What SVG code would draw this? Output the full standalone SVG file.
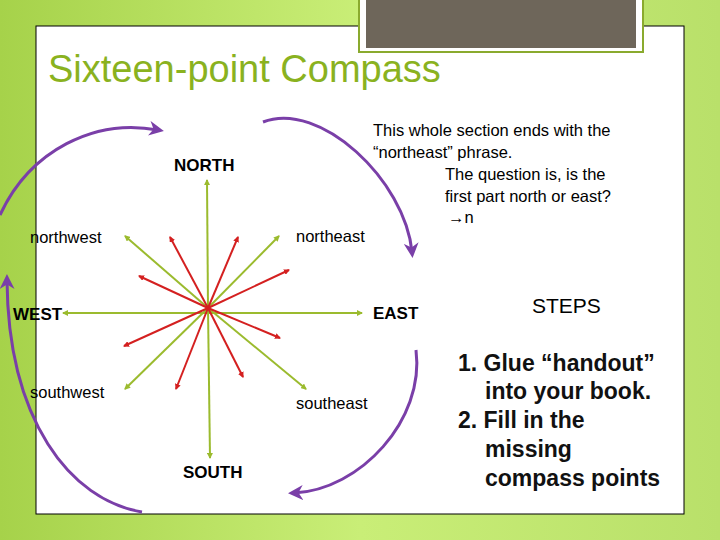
<svg xmlns="http://www.w3.org/2000/svg" width="720" height="540" viewBox="0 0 720 540">
<defs>
<linearGradient id="bg" x1="0" y1="0" x2="1" y2="0"><stop offset="0" stop-color="#a6d24a"/><stop offset="0.5" stop-color="#c9ee77"/><stop offset="1" stop-color="#b9e06a"/></linearGradient>
<marker id="ag" viewBox="0 0 6 6" refX="5" refY="3" markerWidth="3" markerHeight="3" orient="auto"><path d="M0,0L6,3L0,6z" fill="#9bbb2e"/></marker>
<marker id="ar" viewBox="0 0 6 6" refX="5" refY="3" markerWidth="3" markerHeight="3" orient="auto"><path d="M0,0L6,3L0,6z" fill="#d42020"/></marker>
<marker id="ap" viewBox="0 0 10 10" refX="6" refY="5" markerWidth="5" markerHeight="5" orient="auto"><path d="M0,0L10,5L0,10L3,5z" fill="#7a3fa8"/></marker>
<style>
.g{stroke:#9bbb2e;stroke-width:2;marker-end:url(#ag)}
.r{stroke:#d42020;stroke-width:2;marker-end:url(#ar)}
.p{fill:none;stroke:#7a3fa8;stroke-width:3;marker-end:url(#ap)}
text{font-family:"Liberation Sans",Arial,sans-serif;fill:#000}
.b{font-weight:bold;font-size:17px}
.n{font-size:16.5px}
.s{font-size:23px;font-weight:bold;fill:#111}
</style>
</defs>
<rect width="720" height="540" fill="url(#bg)"/>
<rect x="36" y="26" width="648" height="488" fill="#fff" stroke="#000" stroke-width="1"/>
<rect x="359" y="-2" width="284" height="54" fill="#fff" stroke="#8aaa2e" stroke-width="2"/>
<rect x="366" y="-2" width="270" height="50" fill="#6e665a"/>
<text x="48" y="82" font-size="38" style="fill:#8ab21f">Sixteen-point Compass</text>
<g id="connectors">
<line class="g" x1="208" y1="308" x2="207" y2="180"/>
<line class="g" x1="208" y1="308" x2="210" y2="458"/>
<line class="g" x1="208" y1="313" x2="63" y2="313"/>
<line class="g" x1="208" y1="313" x2="362" y2="313"/>
<line class="g" x1="208" y1="308" x2="125" y2="236"/>
<line class="g" x1="208" y1="308" x2="279" y2="236"/>
<line class="g" x1="208" y1="308" x2="125" y2="389"/>
<line class="g" x1="208" y1="308" x2="306" y2="389"/>
<line class="r" x1="208" y1="308" x2="170" y2="237"/>
<line class="r" x1="208" y1="308" x2="238" y2="237"/>
<line class="r" x1="208" y1="308" x2="139" y2="276"/>
<line class="r" x1="208" y1="308" x2="289" y2="270"/>
<line class="r" x1="208" y1="308" x2="124" y2="346"/>
<line class="r" x1="208" y1="308" x2="280" y2="338"/>
<line class="r" x1="208" y1="308" x2="176" y2="389"/>
<line class="r" x1="208" y1="308" x2="243" y2="377"/>
<path class="p" d="M0,215 C30,150 95,118 158,130"/>
<path class="p" d="M263,122 C320,100 405,180 412,252"/>
<path class="p" d="M416,350 C425,420 360,490 294,493"/>
<path class="p" d="M142,512 C70,500 8,420 7,280"/>
</g>
<g id="north"><text class="b" x="174" y="171">NORTH</text></g>
<g id="south"><text class="b" x="183" y="478">SOUTH</text></g>
<g id="west"><text class="b" x="13" y="320">WEST</text></g>
<g id="east"><text class="b" x="373" y="319">EAST</text></g>
<g id="northwest"><text class="n" x="30" y="243">northwest</text></g>
<g id="northeast"><text class="n" x="296" y="242">northeast</text></g>
<g id="southwest"><text class="n" x="30" y="398">southwest</text></g>
<g id="southeast"><text class="n" x="296" y="409">southeast</text></g>
<g id="note">
<text class="n" x="373" y="136">This whole section ends with the</text>
<text class="n" x="373" y="158">“northeast” phrase.</text>
<text class="n" x="445" y="180">The question is, is the</text>
<text class="n" x="445" y="202">first part north or east?</text>
<text class="n" x="448" y="223">→n</text>
</g>
<g id="steps">
<text x="532" y="313" font-size="21">STEPS</text>
<text class="s" x="458" y="371">1. Glue “handout”</text>
<text class="s" x="485" y="399">into your book.</text>
<text class="s" x="458" y="428">2. Fill in the</text>
<text class="s" x="485" y="457">missing</text>
<text class="s" x="485" y="486">compass points</text>
</g>
</svg>
